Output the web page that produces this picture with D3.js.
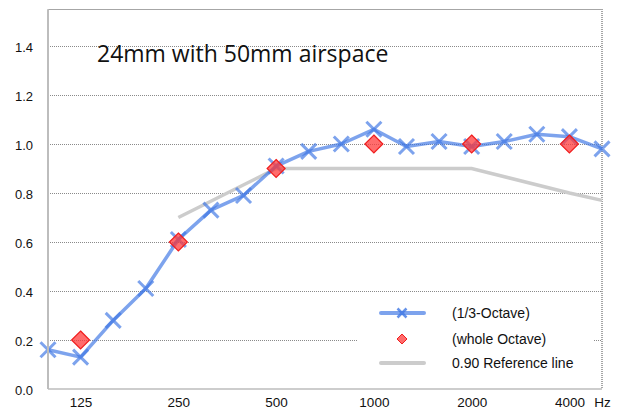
<!DOCTYPE html>
<html><head><meta charset="utf-8">
<script src="https://cdn.jsdelivr.net/npm/d3@7"></script>
<style>body{margin:0;background:#fff}svg{display:block}</style>
</head><body><svg id="c" width="620" height="410"></svg>
<script>
const bands = ["100","125","160","200","250","315","400","500","630","800","1000","1250","1600","2000","2500","3150","4000","5000"];
const tickLabels = ["","125","","","250","","","500","","","1000","","","2000","","","4000","Hz"];
const thirdOctave = [0.16,0.13,0.28,0.41,0.61,0.73,0.79,0.91,0.97,1.00,1.06,0.99,1.01,0.99,1.01,1.04,1.03,0.98];
const octaveBands = ["125","250","500","1000","2000","4000"];
const octaveValues = [0.20,0.60,0.90,1.00,1.00,1.00];
const refBands = ["250","500","2000","4000","5000"];
const refValues = [0.70,0.90,0.90,0.80,0.77];
const yTicks = [0.0,0.2,0.4,0.6,0.8,1.0,1.2,1.4];
const titleText = "24mm with 50mm airspace";
const legendLabels = ["(1/3-Octave)","(whole Octave)","0.90 Reference line"];

const svg = d3.select("#c");
const L = 48, R = 602, T = 9.25, B = 389;
const x = d3.scalePoint().domain(bands).range([L, R]);
const y = d3.scaleLinear().domain([0, 1.55]).range([B, T]);

// gridlines
svg.append("g").selectAll("line").data(yTicks.filter(d => d > 0)).join("line")
  .attr("x1", L).attr("x2", R).attr("y1", d => y(d)).attr("y2", d => y(d))
  .attr("stroke", "#8a8a8a").attr("stroke-width", 1).attr("stroke-dasharray", "1 1")
  .attr("shape-rendering", "crispEdges");

// borders
svg.append("line").attr("x1", L).attr("x2", R).attr("y1", T).attr("y2", T)
  .attr("stroke", "#a6a6a6").attr("stroke-width", 1).attr("shape-rendering", "crispEdges");
svg.append("line").attr("x1", R).attr("x2", R).attr("y1", T).attr("y2", B)
  .attr("stroke", "#a6a6a6").attr("stroke-width", 1.2).attr("stroke-dasharray", "1 1").attr("shape-rendering", "crispEdges");

// title
svg.append("text").attr("x", 97).attr("y", 62).text(titleText)
  .attr("font-family", "'Open Sans', sans-serif").attr("font-size", 23).attr("fill", "#111");

// reference line
const line = d3.line().x(d => x(d[0])).y(d => y(d[1]));
svg.append("path").datum(refBands.map((b, i) => [b, refValues[i]]))
  .attr("d", line).attr("fill", "none").attr("stroke", "#cccccc").attr("stroke-width", 3.5);

// 1/3 octave line
const blue = "#3f77e4";
const tData = bands.map((b, i) => [b, thirdOctave[i]]);
svg.append("path").datum(tData).attr("d", line).attr("fill", "none")
  .attr("stroke", blue).attr("stroke-opacity", 0.68).attr("stroke-width", 3.5).attr("stroke-linejoin", "round");
const s = 7.5;
svg.append("g").selectAll("path").data(tData).join("path")
  .attr("d", d => { const cx = x(d[0]), cy = y(d[1]); return `M${cx-s},${cy-s}L${cx+s},${cy+s}M${cx-s},${cy+s}L${cx+s},${cy-s}`; })
  .attr("stroke", blue).attr("stroke-opacity", 0.68).attr("stroke-width", 3).attr("fill", "none");

// octave diamonds
const dS = 9;
svg.append("g").selectAll("path").data(octaveBands.map((b, i) => [b, octaveValues[i]])).join("path")
  .attr("d", d => { const cx = x(d[0]), cy = y(d[1]); return `M${cx},${cy-dS}L${cx+dS},${cy}L${cx},${cy+dS}L${cx-dS},${cy}Z`; })
  .attr("fill", "#ff3b3b").attr("fill-opacity", 0.75).attr("stroke", "#f01e1e").attr("stroke-width", 1.2);

// axes
svg.append("line").attr("x1", L).attr("x2", L).attr("y1", T).attr("y2", B)
  .attr("stroke", "#bdbdbd").attr("stroke-width", 2);
svg.append("line").attr("x1", L).attr("x2", R).attr("y1", B).attr("y2", B)
  .attr("stroke", "#bdbdbd").attr("stroke-width", 1.5);

// y tick labels
const yAxis = d3.axisLeft(y).tickValues(yTicks).tickFormat(d3.format(".1f")).tickSize(0).tickPadding(15);
const ya = svg.append("g").attr("transform", `translate(${L},1)`).call(yAxis);
ya.select(".domain").remove();
ya.selectAll("text").attr("font-family", "'Liberation Sans', Arial, sans-serif").attr("font-size", 13).attr("fill", "#111");

// x tick labels
const xAxis = d3.axisBottom(x).tickFormat((d, i) => tickLabels[i]).tickSize(0).tickPadding(8.5);
const xa = svg.append("g").attr("transform", `translate(0,${B})`).call(xAxis);
xa.select(".domain").remove();
xa.selectAll("text").attr("font-family", "'Liberation Sans', Arial, sans-serif").attr("font-size", 13.5).attr("fill", "#111");

// legend
const lg = svg.append("g");
lg.append("rect").attr("x", 358).attr("y", 297).attr("width", 235).attr("height", 91).attr("fill", "#fff");
const ly = [313, 339, 363];
lg.append("line").attr("x1", 381).attr("x2", 424).attr("y1", ly[0]).attr("y2", ly[0])
  .attr("stroke", blue).attr("stroke-opacity", 0.68).attr("stroke-width", 4).attr("stroke-linecap", "round");
const ls = 4.5, lcx = 402;
lg.append("path").attr("d", `M${lcx-ls},${ly[0]-ls}L${lcx+ls},${ly[0]+ls}M${lcx-ls},${ly[0]+ls}L${lcx+ls},${ly[0]-ls}`)
  .attr("stroke", blue).attr("stroke-opacity", 0.8).attr("stroke-width", 2.5);
const lds = 5;
lg.append("path").attr("d", `M${lcx},${ly[1]-lds}L${lcx+lds},${ly[1]}L${lcx},${ly[1]+lds}L${lcx-lds},${ly[1]}Z`)
  .attr("fill", "#ff3b3b").attr("fill-opacity", 0.75).attr("stroke", "#f01e1e").attr("stroke-width", 1);
lg.append("line").attr("x1", 381).attr("x2", 424).attr("y1", ly[2]).attr("y2", ly[2])
  .attr("stroke", "#cccccc").attr("stroke-width", 4).attr("stroke-linecap", "round");
lg.selectAll("text").data(legendLabels).join("text")
  .attr("x", 452).attr("y", (d, i) => ly[i] + 5).text(d => d)
  .attr("font-family", "'Liberation Sans', Arial, sans-serif").attr("font-size", 14).attr("fill", "#111");
</script></body></html>
